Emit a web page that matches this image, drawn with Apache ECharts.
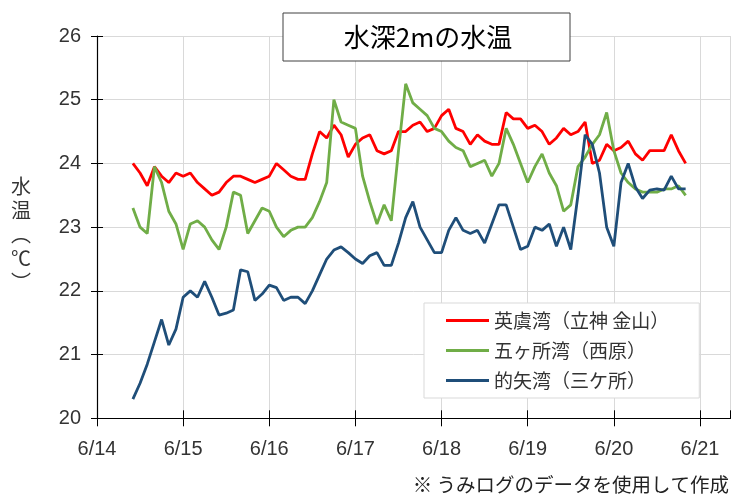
<!DOCTYPE html>
<html>
<head>
<meta charset="utf-8">
<script src="https://cdn.jsdelivr.net/npm/echarts@6/dist/echarts.min.js"></script>
<style>
  html, body { margin: 0; padding: 0; background: #fff; }
  #chart { width: 734px; height: 499px; }
</style>
</head>
<body>
<div id="chart"></div>
<script>
/* ---------- データ（6/14 0時からの経過時間） ---------- */
const dayLabels = ['6/14', '6/15', '6/16', '6/17', '6/18', '6/19', '6/20', '6/21'];
const hours = [
  10, 12, 14, 16, 18, 20,
  22, 24, 26, 28, 30, 32, 34, 36, 38, 40, 42, 44,
  46, 48, 50, 52, 54, 56, 58, 60, 62, 64, 66, 68,
  70, 72, 74, 76, 78, 80, 82, 84, 86, 88, 90, 92,
  94, 96, 98, 100, 102, 104, 106, 108, 110, 112, 114, 116,
  118, 120, 122, 124, 126, 128, 130, 132, 134, 136, 138, 140,
  142, 144, 146, 148, 150, 152, 154, 156, 158, 160, 162, 164,
];
// 英虞湾（立神 金山）
const agoBay = [
  24.0, 23.85, 23.65, 23.95, 23.8, 23.7,
  23.85, 23.8, 23.85, 23.7, 23.6, 23.5, 23.55, 23.7, 23.8, 23.8, 23.75, 23.7,
  23.75, 23.8, 24.0, 23.9, 23.8, 23.75, 23.75, 24.15, 24.5, 24.4, 24.6, 24.45,
  24.1, 24.3, 24.4, 24.45, 24.2, 24.15, 24.2, 24.5, 24.5, 24.6, 24.65, 24.5,
  24.55, 24.75, 24.85, 24.55, 24.5, 24.3, 24.45, 24.35, 24.3, 24.3, 24.8, 24.7,
  24.7, 24.55, 24.6, 24.5, 24.3, 24.4, 24.55, 24.45, 24.5, 24.65, 24.0, 24.05,
  24.3, 24.2, 24.25, 24.35, 24.15, 24.05, 24.2, 24.2, 24.2, 24.45, 24.2, 24.0,
];
// 五ヶ所湾（西原）
const gokashoBay = [
  23.3, 23.0, 22.9, 23.95, 23.7, 23.25,
  23.05, 22.65, 23.05, 23.1, 23.0, 22.8, 22.65, 23.0, 23.55, 23.5, 22.9, 23.1,
  23.3, 23.25, 23.0, 22.85, 22.95, 23.0, 23.0, 23.15, 23.4, 23.7, 25.0, 24.65,
  24.6, 24.55, 23.8, 23.4, 23.05, 23.35, 23.1, 24.2, 25.25, 24.95, 24.85, 24.75,
  24.55, 24.5, 24.35, 24.25, 24.2, 23.95, 24.0, 24.05, 23.8, 24.0, 24.55, 24.3,
  24.0, 23.7, 23.95, 24.15, 23.85, 23.65, 23.25, 23.35, 23.95, 24.1, 24.3, 24.45,
  24.8, 24.2, 23.85, 23.7, 23.6, 23.55, 23.55, 23.55, 23.6, 23.6, 23.65, 23.5,
];
// 的矢湾（三ケ所）
const matoyaBay = [
  20.3, 20.55, 20.85, 21.2, 21.55, 21.15,
  21.4, 21.9, 22.0, 21.9, 22.15, 21.9, 21.62, 21.65, 21.7, 22.33, 22.3, 21.85,
  21.95, 22.09, 22.05, 21.85, 21.9, 21.9, 21.8, 22.0, 22.25, 22.5, 22.64, 22.69,
  22.6, 22.5, 22.43, 22.55, 22.6, 22.4, 22.4, 22.75, 23.15, 23.4, 23.0, 22.8,
  22.6, 22.6, 22.95, 23.15, 22.95, 22.9, 22.95, 22.75, 23.05, 23.35, 23.35, 23.0,
  22.65, 22.7, 23.0, 22.95, 23.05, 22.7, 23.0, 22.65, 23.5, 24.45, 24.3, 23.85,
  23.0, 22.7, 23.7, 24.0, 23.63, 23.45, 23.58, 23.6, 23.58, 23.8, 23.6, 23.6,
];

const seriesNames = ['英虞湾（立神 金山）', '五ヶ所湾（西原）', '的矢湾（三ケ所）'];
const seriesColors = ['#ff0000', '#70ad47', '#1f4e79'];
const seriesData = [agoBay, gokashoBay, matoyaBay];

const latinFont = "'Liberation Sans', sans-serif";
const cjkFont = "'Noto Sans CJK JP', sans-serif";

const chart = echarts.init(document.getElementById('chart'));

const xBase = { type: 'value', min: 0, max: 176.5, interval: 24 };
const yBase = { type: 'value', min: 20, max: 26, interval: 1 };

chart.setOption({
  animation: false,
  grid: { left: 97, right: 3.5, top: 36, bottom: 80.7 },
  xAxis: [
    {
      ...xBase,
      axisLine: { lineStyle: { color: '#000', width: 1.2 } },
      axisTick: { lineStyle: { color: '#000' }, length: 8 },
      axisLabel: {
        color: '#333',
        fontSize: 20,
        fontFamily: latinFont,
        margin: 21,
        showMaxLabel: false,
        formatter: (v) => (v % 24 === 0 ? dayLabels[v / 24] : ''),
      },
      splitLine: { lineStyle: { color: '#d9d9d9' } },
    },
    {
      // 目盛りを軸の内側にも出す（交差目盛り）
      ...xBase,
      position: 'bottom',
      axisLine: { show: false },
      axisTick: { inside: true, length: 8, lineStyle: { color: '#000' } },
      axisLabel: { show: false },
      splitLine: { show: false },
    },
  ],
  yAxis: [
    {
      ...yBase,
      axisLine: { show: true, lineStyle: { color: '#000', width: 1.2 } },
      axisTick: { show: true, length: 6, lineStyle: { color: '#000' } },
      axisLabel: { color: '#333', fontSize: 20, fontFamily: latinFont, margin: 16 },
      splitLine: { lineStyle: { color: '#d9d9d9' } },
    },
    {
      ...yBase,
      position: 'left',
      axisLine: { show: false },
      axisTick: { show: true, inside: true, length: 6, lineStyle: { color: '#000' } },
      axisLabel: { show: false },
      splitLine: { show: false },
    },
  ],
  legend: {
    orient: 'vertical',
    left: 424,
    top: 303,
    padding: [8, 30, 8, 22],
    itemGap: 11,
    itemWidth: 43,
    itemHeight: 3,
    icon: 'rect',
    backgroundColor: '#fff',
    borderColor: '#d9d9d9',
    borderWidth: 1,
    textStyle: { fontSize: 19, fontFamily: cjkFont, color: '#333' },
    data: seriesNames,
  },
  graphic: [
    {
      type: 'rect',
      shape: { x: 283, y: 13, width: 287, height: 48 },
      style: { fill: '#fff', stroke: '#404040', lineWidth: 1 },
      z: 10,
    },
    {
      type: 'text',
      x: 428,
      y: 37,
      style: {
        text: '水深2mの水温',
        fontSize: 26,
        fontFamily: cjkFont,
        fill: '#000',
        align: 'center',
        verticalAlign: 'middle',
      },
      z: 11,
    },
    {
      type: 'text',
      x: 21,
      y: 234,
      style: {
        text: '水\n温\n︵\n℃\n︶',
        fontSize: 20,
        lineHeight: 24,
        fontFamily: cjkFont,
        fill: '#333',
        align: 'center',
        verticalAlign: 'middle',
      },
    },
    {
      type: 'text',
      right: 5,
      top: 475,
      style: {
        text: '※ うみログのデータを使用して作成',
        fontSize: 19.5,
        fontFamily: cjkFont,
        fill: '#222',
      },
    },
  ],
  series: seriesNames.map((name, i) => ({
    name,
    type: 'line',
    showSymbol: false,
    color: seriesColors[i],
    lineStyle: { width: 2.8, color: seriesColors[i] },
    data: hours.map((h, k) => [h, seriesData[i][k]]),
  })),
});
</script>
</body>
</html>
